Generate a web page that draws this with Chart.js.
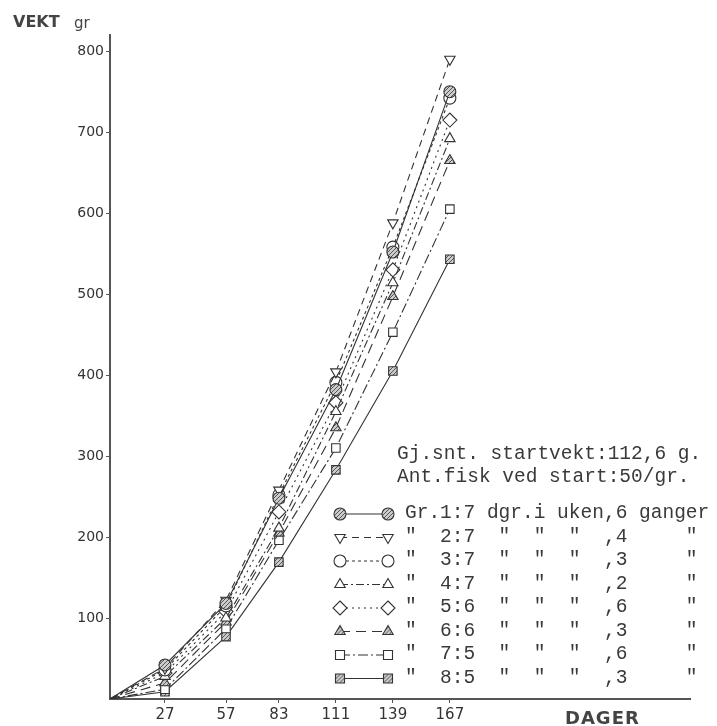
<!DOCTYPE html>
<html>
<head>
<meta charset="utf-8">
<script src="https://cdn.jsdelivr.net/npm/chart.js@4.4.0/dist/chart.umd.min.js"></script>
<style>
  body { margin: 0; background: #fff; }
  #wrap { position: relative; width: 717px; height: 726px; }
  #fishChart { position: absolute; left: 0; top: 0; }
  .txt { position: absolute; color: #333; white-space: pre; line-height: 1; }
  .mono { font-family: "Liberation Mono", "Courier New", monospace; font-size: 19.5px; color: #3a3a3a; }
</style>
</head>
<body>
<div id="wrap">
  <canvas id="fishChart" width="717" height="726"></canvas>
  <div class="txt" style="left:13px;top:12px;font:bold 16px 'DejaVu Sans';color:#444;">VEKT</div>
  <div class="txt" style="left:74px;top:14px;font:15px 'DejaVu Sans';color:#444;">gr</div>
  <div class="txt" style="left:565px;top:707px;font:bold 18px 'DejaVu Sans';letter-spacing:1px;color:#444;">DAGER</div>
  <div id="notes"></div>
  <div id="legendText"></div>
</div>
<script>
// days of measurement
const days = [0, 27, 57, 83, 111, 139, 167];
const dayTicks = [27, 57, 83, 111, 139, 167];
const weightTicks = [100, 200, 300, 400, 500, 600, 700, 800];

// weight per group (gr)
const group1 = [0, 42, 118, 248, 382, 552, 750];
const group2 = [0, 38, 122, 258, 404, 588, 790];
const group3 = [0, 36, 115, 252, 391, 558, 742];
const group4 = [0, 28, 100, 211, 355, 514, 692];
const group5 = [0, 32, 108, 231, 366, 530, 715];
const group6 = [0, 20, 95, 205, 335, 497, 665];
const group7 = [0, 12, 87, 196, 310, 453, 605];
const group8 = [0, 9, 77, 169, 283, 405, 543];

const legendLabels = [
  'Gr.1:7 dgr.i uken,6 ganger',
  '"  2:7  "  "  "  ,4     "',
  '"  3:7  "  "  "  ,3     "',
  '"  4:7  "  "  "  ,2     "',
  '"  5:6  "  "  "  ,6     "',
  '"  6:6  "  "  "  ,3     "',
  '"  7:5  "  "  "  ,6     "',
  '"  8:5  "  "  "  ,3     "'
];
const notes = ['Gj.snt. startvekt:112,6 g.', 'Ant.fisk ved start:50/gr.'];

const ink = '#333';
const legendX1 = 340, legendX2 = 388, legendTop = 514, legendStep = 23.5;
const textX = 405;

function hatch() {
  const c = document.createElement('canvas');
  c.width = 4; c.height = 4;
  const g = c.getContext('2d');
  g.fillStyle = '#ccc';
  g.fillRect(0, 0, 4, 4);
  g.strokeStyle = '#555';
  g.beginPath(); g.moveTo(0, 4); g.lineTo(4, 0); g.stroke();
  return g.createPattern(c, 'repeat');
}
const hatchFill = hatch();

function makeSet(values, style, rotation, fill, dash, radius) {
  return {
    data: days.map((d, i) => ({ x: d, y: values[i] })),
    borderColor: ink,
    borderWidth: 1.1,
    borderDash: dash,
    pointStyle: style,
    rotation: rotation,
    pointBackgroundColor: fill,
    pointBorderColor: ink,
    pointBorderWidth: 1.1,
    pointRadius: days.map((d, i) => i === 0 ? 0 : radius),
    tension: 0,
    fill: false
  };
}

const datasets = [
  makeSet(group1, 'circle', 0, hatchFill, [], 6),
  makeSet(group2, 'triangle', 180, '#fff', [7, 5], 6),
  makeSet(group3, 'circle', 0, '#fff', [3, 3], 6),
  makeSet(group4, 'triangle', 0, '#fff', [8, 3, 2, 3], 6),
  makeSet(group5, 'rectRot', 0, '#fff', [2, 4], 7),
  makeSet(group6, 'triangle', 0, hatchFill, [10, 6], 6),
  makeSet(group7, 'rect', 0, '#fff', [10, 3, 2, 3], 6),
  makeSet(group8, 'rect', 0, hatchFill, [], 6)
];

function drawMarker(ctx, ds, x, y) {
  const r = ds.pointRadius[1];
  ctx.save();
  ctx.fillStyle = ds.pointBackgroundColor;
  ctx.strokeStyle = ds.pointBorderColor;
  ctx.lineWidth = ds.pointBorderWidth;
  ctx.setLineDash([]);
  ctx.translate(x, y);
  ctx.rotate(ds.rotation * Math.PI / 180);
  ctx.beginPath();
  if (ds.pointStyle === 'circle') {
    ctx.arc(0, 0, r, 0, Math.PI * 2);
  } else if (ds.pointStyle === 'triangle') {
    ctx.moveTo(0, -r);
    ctx.lineTo(r * 0.866, r * 0.5);
    ctx.lineTo(-r * 0.866, r * 0.5);
    ctx.closePath();
  } else if (ds.pointStyle === 'rectRot') {
    ctx.moveTo(0, -r); ctx.lineTo(r, 0); ctx.lineTo(0, r); ctx.lineTo(-r, 0);
    ctx.closePath();
  } else {
    const s = r * 0.75;
    ctx.rect(-s, -s, 2 * s, 2 * s);
  }
  ctx.fill();
  ctx.stroke();
  ctx.restore();
}

// little line + marker samples in front of each legend row
const legendSymbols = {
  id: 'legendSymbols',
  afterDraw(chart) {
    const ctx = chart.ctx;
    chart.data.datasets.forEach((ds, i) => {
      const y = legendTop + i * legendStep;
      ctx.save();
      ctx.strokeStyle = ds.borderColor;
      ctx.lineWidth = ds.borderWidth;
      ctx.setLineDash(ds.borderDash);
      ctx.beginPath();
      ctx.moveTo(legendX1, y);
      ctx.lineTo(legendX2, y);
      ctx.stroke();
      ctx.restore();
      drawMarker(ctx, ds, legendX1, y);
      drawMarker(ctx, ds, legendX2, y);
    });
  }
};

new Chart(document.getElementById('fishChart'), {
  type: 'line',
  data: { datasets: datasets },
  options: {
    responsive: false,
    animation: false,
    devicePixelRatio: 1,
    layout: { padding: { top: 35, right: 27, left: 0, bottom: 0 } },
    plugins: { legend: { display: false }, tooltip: { enabled: false } },
    scales: {
      x: {
        type: 'linear',
        min: 0,
        max: 285,
        afterFit(s) { s.height = 27; },
        afterBuildTicks(s) { s.ticks = dayTicks.map(v => ({ value: v })); },
        grid: { drawOnChartArea: false, tickLength: 4, color: '#555' },
        border: { color: '#555', width: 2 },
        ticks: { font: { family: 'DejaVu Sans', size: 15 }, color: ink, padding: 3, maxRotation: 0, autoSkip: false }
      },
      y: {
        min: 0,
        max: 820,
        afterFit(s) { s.width = 110; },
        afterBuildTicks(s) { s.ticks = weightTicks.map(v => ({ value: v })); },
        grid: { drawOnChartArea: false, tickLength: 4, color: '#555' },
        border: { color: '#555', width: 2 },
        ticks: { font: { family: 'DejaVu Sans', size: 14 }, color: ink, padding: 2 }
      }
    }
  },
  plugins: [legendSymbols]
});

const notesBox = document.getElementById('notes');
notes.forEach((t, i) => {
  const d = document.createElement('div');
  d.className = 'txt mono';
  d.style.left = (textX - 8) + 'px';
  d.style.top = (455 - 10 + i * 23) + 'px';
  d.textContent = t;
  notesBox.appendChild(d);
});

const legendBox = document.getElementById('legendText');
legendLabels.forEach((t, i) => {
  const d = document.createElement('div');
  d.className = 'txt mono';
  d.style.left = textX + 'px';
  d.style.top = (legendTop + i * legendStep - 10) + 'px';
  d.textContent = t;
  legendBox.appendChild(d);
});
</script>
</body>
</html>
